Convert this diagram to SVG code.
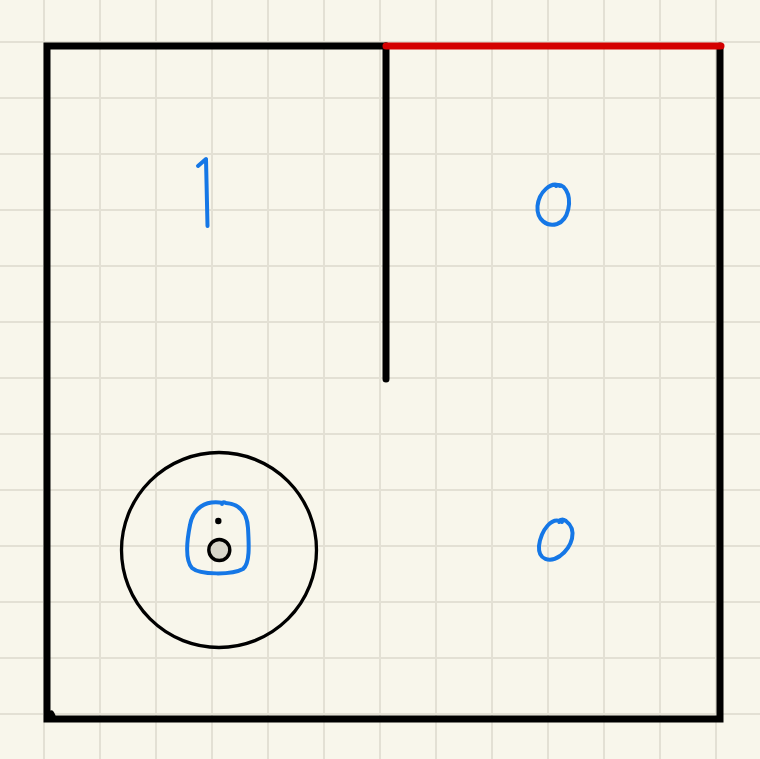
<svg xmlns="http://www.w3.org/2000/svg" width="760" height="759" viewBox="0 0 760 759">
<defs>
<style>
.grid line{stroke:#e3e0d4;stroke-width:2}
.wall{stroke:#000;stroke-width:7;stroke-linecap:round;fill:none}
.red{stroke:#d40000;stroke-width:7;stroke-linecap:round;fill:none}
.ink{stroke:#1577e6;stroke-width:4;stroke-linecap:round;stroke-linejoin:round;fill:none}
</style>
</defs>
<rect width="760" height="759" fill="#f8f6eb"/>
<g class="grid">
<line x1="44" y1="0" x2="44" y2="759"/><line x1="100" y1="0" x2="100" y2="759"/><line x1="156" y1="0" x2="156" y2="759"/><line x1="212" y1="0" x2="212" y2="759"/><line x1="268" y1="0" x2="268" y2="759"/><line x1="324" y1="0" x2="324" y2="759"/><line x1="380" y1="0" x2="380" y2="759"/><line x1="436" y1="0" x2="436" y2="759"/><line x1="492" y1="0" x2="492" y2="759"/><line x1="548" y1="0" x2="548" y2="759"/><line x1="604" y1="0" x2="604" y2="759"/><line x1="660" y1="0" x2="660" y2="759"/><line x1="716" y1="0" x2="716" y2="759"/>
<line x1="0" y1="42" x2="760" y2="42"/><line x1="0" y1="98" x2="760" y2="98"/><line x1="0" y1="154" x2="760" y2="154"/><line x1="0" y1="210" x2="760" y2="210"/><line x1="0" y1="266" x2="760" y2="266"/><line x1="0" y1="322" x2="760" y2="322"/><line x1="0" y1="378" x2="760" y2="378"/><line x1="0" y1="434" x2="760" y2="434"/><line x1="0" y1="490" x2="760" y2="490"/><line x1="0" y1="546" x2="760" y2="546"/><line x1="0" y1="602" x2="760" y2="602"/><line x1="0" y1="658" x2="760" y2="658"/><line x1="0" y1="714" x2="760" y2="714"/>
</g>
<g id="walls">
<path class="wall" d="M386,46 L47,46 L47,719 L720,719 L720,46"/>
<path class="wall" d="M386,46 L386,379"/>
<path class="wall" d="M51,714 L52,716"/>
<path class="red" d="M386,46 L721,46"/>
</g>
<g id="pillar">
<circle cx="219" cy="550" r="97.5" fill="none" stroke="#000" stroke-width="3.3"/>
<circle cx="219.3" cy="550" r="10.5" fill="#d8d6cb" stroke="#000" stroke-width="3.4"/>
<circle cx="218.3" cy="521" r="3.2" fill="#000"/>
</g>
<g id="marks">
<path class="ink" d="M198,166 L206,159 L207.5,226"/>
<path class="ink" d="M560,186 C551,181 539,192 537.5,206 C536.5,220 547,227 557,224 C569,220 572,200 566,190 C563,185 559,184 556,186"/>
<path class="ink" d="M562,522 C552,516 541,530 539,546 C538,560 550,563 560,556 C572,547 578,530 566,521 C563,519 560,519 559,522"/>
<path class="ink" d="M223,503 C205,500 193,508 190,525 C187,540 185,560 192,568 C200,575 232,575 243,569 C250,564 249,545 248,528 C247,511 238,504 226,503 C224,502 222,502 222,504"/>
</g>
</svg>
